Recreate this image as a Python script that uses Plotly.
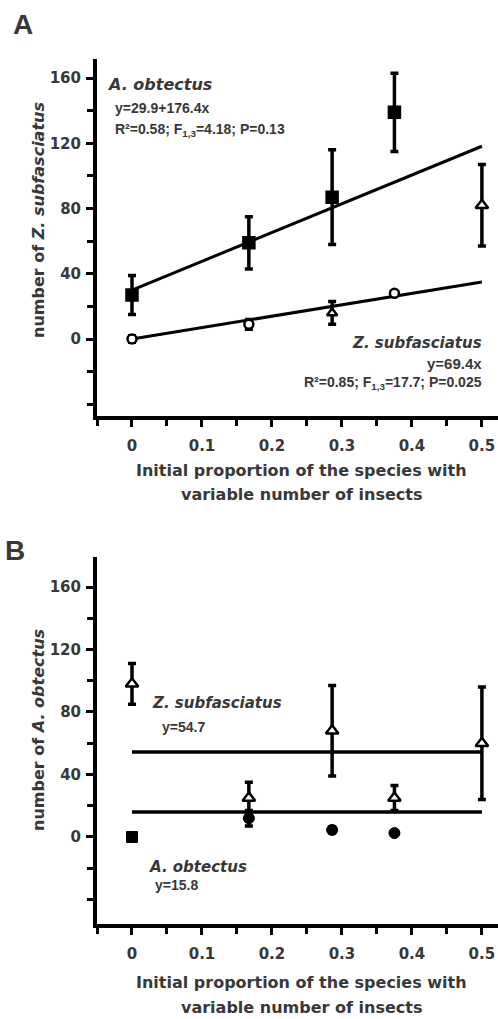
import plotly.graph_objects as go

W, H = 498, 1019

# ---------------- data ----------------
x_ticks = [0, 0.1, 0.2, 0.3, 0.4, 0.5]
x_ticktext = ["0", "0.1", "0.2", "0.3", "0.4", "0.5"]
y_ticks = [0, 40, 80, 120, 160]
y_ticktext = ["0", "40", "80", "120", "160"]

# Panel A: number of Z. subfasciatus
a_obt_x = [0, 0.167, 0.286, 0.375, 0.5]
a_obt_y = [27, 59, 87, 139, 82]
a_obt_err = [12, 16, 29, 24, 25]
a_obt_sym = ["square", "square", "square", "square", "triangle-up"]
a_obt_fill = ["black", "black", "black", "black", "white"]

a_zsub_x = [0, 0.167, 0.286, 0.375]
a_zsub_y = [0, 9, 16, 28]
a_zsub_err = [2, 3, 7, 1]
a_zsub_sym = ["circle", "circle", "triangle-up", "circle"]

a_fit_x = [0, 0.5]
a_obt_fit = (30.0, 176.4)   # intercept, slope
a_zsub_fit = (0.0, 70.0)

# Panel B: number of A. obtectus
b_zsub_x = [0, 0.167, 0.286, 0.375, 0.5]
b_zsub_y = [98, 25, 68, 25, 60]
b_zsub_err = [13, 10, 29, 8, 36]

b_obt_x = [0, 0.167, 0.286, 0.375]
b_obt_y = [0, 12, 4.5, 2.5]
b_obt_err = [0, 5, 2, 1]
b_obt_sym = ["square", "circle", "circle", "circle"]

b_fit_x = [0, 0.5]
b_zsub_mean = 54.4
b_obt_mean = 16.0

# ---------------- layout helpers ----------------
def px(x):
    return x / W

def py(y):
    return 1 - y / H

TXT = "#383838"
WIDE = "DejaVu Sans, Verdana, sans-serif"
NARROW = "Liberation Sans, Arial, sans-serif"

fig = go.Figure()

err_style = dict(type="data", thickness=3.5, width=4, color="black")

# Panel A traces
fig.add_trace(go.Scatter(
    x=a_fit_x, y=[a_obt_fit[0] + a_obt_fit[1] * v for v in a_fit_x],
    mode="lines", line=dict(color="black", width=3), xaxis="x", yaxis="y"))
fig.add_trace(go.Scatter(
    x=a_fit_x, y=[a_zsub_fit[0] + a_zsub_fit[1] * v for v in a_fit_x],
    mode="lines", line=dict(color="black", width=3), xaxis="x", yaxis="y"))
fig.add_trace(go.Scatter(
    x=a_obt_x, y=a_obt_y, mode="markers",
    error_y=dict(array=a_obt_err, **err_style),
    marker=dict(symbol=a_obt_sym, size=11, color=a_obt_fill,
                line=dict(color="black", width=2.5)),
    xaxis="x", yaxis="y"))
fig.add_trace(go.Scatter(
    x=a_zsub_x, y=a_zsub_y, mode="markers",
    error_y=dict(array=a_zsub_err, **err_style),
    marker=dict(symbol=a_zsub_sym, size=9, color="white",
                line=dict(color="black", width=2.5)),
    xaxis="x", yaxis="y"))

# Panel B traces
fig.add_trace(go.Scatter(
    x=b_fit_x, y=[b_zsub_mean for _ in b_fit_x],
    mode="lines", line=dict(color="black", width=3.5), xaxis="x2", yaxis="y2"))
fig.add_trace(go.Scatter(
    x=b_fit_x, y=[b_obt_mean for _ in b_fit_x],
    mode="lines", line=dict(color="black", width=3.5), xaxis="x2", yaxis="y2"))
fig.add_trace(go.Scatter(
    x=b_obt_x, y=b_obt_y, mode="markers",
    error_y=dict(array=b_obt_err, **err_style),
    marker=dict(symbol=b_obt_sym, size=11, color="black",
                line=dict(color="black", width=1)),
    xaxis="x2", yaxis="y2"))
fig.add_trace(go.Scatter(
    x=b_zsub_x, y=b_zsub_y, mode="markers",
    error_y=dict(array=b_zsub_err, **err_style),
    marker=dict(symbol="triangle-up", size=11, color="white",
                line=dict(color="black", width=2.5)),
    xaxis="x2", yaxis="y2"))

tickfont = dict(family=WIDE, size=15, color=TXT, weight="bold")

def xax(domain_y_anchor):
    return dict(
        domain=[px(97), 1], range=[-0.05, 0.523], anchor=domain_y_anchor,
        showline=True, linewidth=4, linecolor="black", showgrid=False,
        zeroline=False, ticks="outside", ticklen=7, tickwidth=3,
        tickcolor="black", tickvals=x_ticks, ticktext=x_ticktext,
        tickfont=tickfont, ticklabelstandoff=6,
        minor=dict(ticks="outside", ticklen=6, tickwidth=3,
                   tickcolor="black", tickvals=[-0.05, 0.05, 0.15, 0.25, 0.35, 0.45]),
    )

def yax(dom, rng, xanchor):
    return dict(
        domain=dom, range=rng, anchor=xanchor,
        showline=True, linewidth=4, linecolor="black", showgrid=False,
        zeroline=False, ticks="outside", ticklen=7, tickwidth=3,
        tickcolor="black", tickvals=y_ticks, ticktext=y_ticktext,
        tickfont=tickfont, ticklabelstandoff=2,
        minor=dict(ticks="outside", ticklen=6, tickwidth=3,
                   tickcolor="black", tickvals=[-40, -20, 20, 60, 100, 140]),
    )

fig.update_layout(
    width=W, height=H, margin=dict(l=0, r=0, t=0, b=0),
    paper_bgcolor="white", plot_bgcolor="white", showlegend=False,
    xaxis=xax("y"),
    yaxis=yax([py(416), py(59)], [-47.2, 171.7], "x"),
    xaxis2=xax("y2"),
    yaxis2=yax([py(924), py(557)], [-55.7, 179.2], "x2"),
)

def note(text, x, y, size=14, xanchor="left", angle=0, family=WIDE):
    fig.add_annotation(
        text=text, x=px(x), y=py(y), xref="paper", yref="paper",
        xanchor=xanchor, yanchor="middle", showarrow=False, textangle=angle,
        font=dict(family=family, size=size, color=TXT, weight="bold"))

# Panel letters
note("A", 11, 24, size=28, family=NARROW)
note("B", 3, 550, size=28, family=NARROW)

# Panel A annotations
note("<i>A. obtectus</i>", 105, 85, size=16)
note("y=29.9+176.4x", 113, 108, size=14, family=NARROW)
note("R²=0.58; F<sub>1,3</sub>=4.18; P=0.13", 113, 130, size=14, family=NARROW)
note("<i>Z. subfasciatus</i>", 484, 343, size=15, xanchor="right")
note("y=69.4x", 484, 363, size=15, xanchor="right", family=NARROW)
note("R²=0.85; F<sub>1,3</sub>=17.7; P=0.025", 484, 383, size=14, xanchor="right", family=NARROW)

# Panel B annotations
note("<i>Z. subfasciatus</i>", 150, 703, size=15)
note("y=54.7", 160, 727, size=14, family=NARROW)
note("<i>A. obtectus</i>", 147, 867, size=15)
note("y=15.8", 153, 885, size=14, family=NARROW)

# Axis titles
note("number of <i>Z. subfasciatus</i>", 38, 220, size=16, xanchor="center", angle=-90)
note("number of <i>A. obtectus</i>", 38, 730, size=16, xanchor="center", angle=-90)
for base in (470, 982):
    note("Initial proportion of the species with", 301, base, size=16, xanchor="center")
    note("variable number of insects", 301, base + 25, size=16, xanchor="center")

fig.write_html(
    "out.html",
    config={"displayModeBar": False},
    post_script="document.body.style.margin='0';document.body.style.overflow='hidden';",
)
